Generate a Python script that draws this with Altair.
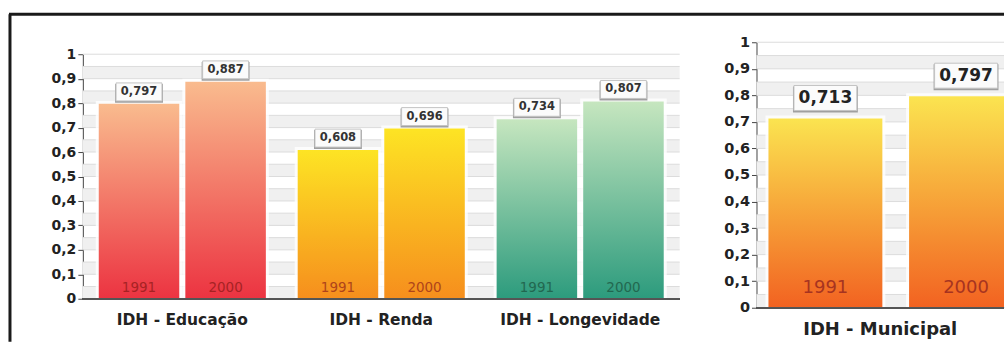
import altair as alt
import pandas as pd

# ---------------- data ----------------
groups = ["IDH - Educação", "IDH - Renda", "IDH - Longevidade"]
years = ["1991", "2000"]
edu = [0.797, 0.887]
renda = [0.608, 0.696]
longev = [0.734, 0.807]
mun_title = "IDH - Municipal"
mun = [0.713, 0.797]

y_ticks = [0, 0.1, 0.2, 0.3, 0.4, 0.5, 0.6, 0.7, 0.8, 0.9, 1]
band_lo = [0.0, 0.1, 0.2, 0.3, 0.4, 0.5, 0.6, 0.7, 0.8, 0.9]
band_hi = [0.05, 0.15, 0.25, 0.35, 0.45, 0.55, 0.65, 0.75, 0.85, 0.95]
grid_vals = [0.05, 0.1, 0.15, 0.2, 0.25, 0.3, 0.35, 0.4, 0.45, 0.5,
             0.55, 0.6, 0.65, 0.7, 0.75, 0.8, 0.85, 0.9, 0.95, 1.0]

def lbl(v):
    return f"{v:.3f}".replace(".", ",")

rows = []
for g, vals in zip(groups, [edu, renda, longev]):
    for yr_, v in zip(years, vals):
        rows.append({"group": g, "year": yr_, "value": v, "label": lbl(v)})
df_left = pd.DataFrame(rows)
df_right = pd.DataFrame({"year": years, "value": mun, "label": [lbl(v) for v in mun]})
df_band = pd.DataFrame({"lo": band_lo, "hi": band_hi})
df_grid = pd.DataFrame({"g": grid_vals})
df_one = pd.DataFrame({"t": [mun_title]})

FONT = "DejaVu Sans"
label_expr = "datum.value == 0 ? '0' : (datum.value == 1 ? '1' : replace(format(datum.value, '.1f'), '.', ','))"

def grad(top, bottom):
    return alt.LinearGradient(
        gradient="linear",
        stops=[alt.GradientStop(color=top, offset=0), alt.GradientStop(color=bottom, offset=1)],
        x1=0, x2=0, y1=0, y2=1,
    )

grads = {
    "IDH - Educação": grad("#f9bb8e", "#ec3341"),
    "IDH - Renda": grad("#fde424", "#f68e1d"),
    "IDH - Longevidade": grad("#c6e6bf", "#2c9b7d"),
}
year_colors = ["#9b1e1e", "#a3361a", "#1f5e48"]

# ---------------- left panel ----------------
LW, LH = 598, 257
yscale_l = alt.Scale(domain=[0, 1], range=[LH, 12], nice=False, zero=True)
x_l = alt.X("group:N", scale=alt.Scale(domain=groups, paddingInner=0.16, paddingOuter=0.08),
            axis=alt.Axis(title=None, domain=False, ticks=False, labelAngle=0, labelFont=FONT,
                          labelFontWeight="bold", labelFontSize=15.5, labelColor="#222",
                          labelPadding=14))
xo_l = alt.XOffset("year:N", scale=alt.Scale(domain=years, paddingInner=0.07))
y_axis_l = alt.Axis(values=y_ticks, labelExpr=label_expr, title=None, grid=False,
                    labelFont=FONT, labelFontWeight="bold", labelFontSize=14,
                    labelColor="#222", domainColor="#444", tickColor="#444", tickSize=5,
                    labelPadding=2)

def yl(field):
    return alt.Y(field, scale=yscale_l, axis=y_axis_l)

bands_l = alt.Chart(df_band).mark_rect(color="#f0f0f0").encode(y=yl("lo:Q"), y2="hi:Q")
grid_l = alt.Chart(df_grid).mark_rule(color="#dcdcdc", strokeWidth=1).encode(y=yl("g:Q"))
halo_l = alt.Chart(df_left).mark_bar(fill="white", stroke="white", strokeWidth=6, strokeOpacity=0.8).encode(
    x=x_l, xOffset=xo_l, y=yl("value:Q"))
bar_layers = []
for g in groups:
    bar_layers.append(
        alt.Chart(df_left).transform_filter(alt.datum.group == g).mark_bar(color=grads[g]).encode(
            x=x_l, xOffset=xo_l, y=yl("value:Q")))
years_l = alt.Chart(df_left).mark_text(font=FONT, fontSize=13.5, baseline="alphabetic", dy=-7, opacity=0.85).encode(
    x=x_l, xOffset=xo_l, y=alt.YDatum(0, scale=yscale_l, axis=y_axis_l), text="year:N",
    color=alt.Color("group:N", scale=alt.Scale(domain=groups, range=year_colors), legend=None))
shadow_l = alt.Chart(df_left).mark_bar(width=48, color="#a0a0a0", yOffset=-20, y2Offset=-1).encode(
    x=x_l, xOffset=xo_l, y=yl("value:Q"), y2="value:Q")
box_l = alt.Chart(df_left).mark_bar(width=46, fill="#fbfbfb", stroke="#c4c4c4", strokeWidth=1,
                                    yOffset=-21, y2Offset=-3).encode(
    x=x_l, xOffset=xo_l, y=yl("value:Q"), y2="value:Q")
vals_l = alt.Chart(df_left).mark_text(font=FONT, fontWeight="bold", fontSize=11.5, color="#333",
                                      baseline="middle", dy=-12).encode(
    x=x_l, xOffset=xo_l, y=yl("value:Q"), text="label:N")
base_l = alt.Chart(df_grid).mark_rule(color="#555", strokeWidth=1.5).encode(
    y=alt.YDatum(0, scale=yscale_l, axis=y_axis_l))
frame_top = alt.Chart(df_one).mark_rule(color="#1a1a1a", strokeWidth=3).encode(
    x=alt.value(-74), x2=alt.value(923), y=alt.value(-28))
frame_left = alt.Chart(df_one).mark_rule(color="#1a1a1a", strokeWidth=3).encode(
    x=alt.value(-73), y=alt.value(-28), y2=alt.value(300))

left = alt.layer(bands_l, grid_l, halo_l, *bar_layers, years_l, shadow_l, box_l, vals_l,
                 base_l, frame_top, frame_left).properties(width=LW, height=LH)

# ---------------- right panel ----------------
RW, RH = 248, 266
yscale_r = alt.Scale(domain=[0, 1], range=[RH, 0], nice=False, zero=True)
x_r = alt.X("year:N", scale=alt.Scale(domain=years, range=[0, 279], paddingInner=0.19, paddingOuter=0.085),
            axis=None)
y_axis_r = alt.Axis(values=y_ticks, labelExpr=label_expr, title=None, grid=False,
                    labelFont=FONT, labelFontWeight="bold", labelFontSize=14.5,
                    labelColor="#222", domainColor="#444", tickColor="#444", tickSize=5,
                    labelPadding=2)

def yr(field):
    return alt.Y(field, scale=yscale_r, axis=y_axis_r)

grad_mun = grad("#fbe450", "#f26221")

bands_r = alt.Chart(df_band).mark_rect(color="#f0f0f0").encode(y=yr("lo:Q"), y2="hi:Q")
grid_r = alt.Chart(df_grid).mark_rule(color="#dcdcdc", strokeWidth=1).encode(y=yr("g:Q"))
halo_r = alt.Chart(df_right).mark_bar(fill="white", stroke="white", strokeWidth=6, strokeOpacity=0.8, clip=True).encode(
    x=x_r, y=yr("value:Q"))
bar_r = alt.Chart(df_right).mark_bar(color=grad_mun, clip=True).encode(x=x_r, y=yr("value:Q"))
years_r = alt.Chart(df_right).mark_text(font=FONT, fontSize=18, baseline="alphabetic", dy=-15,
                                        color="#9a2a20", opacity=0.85, clip=True).encode(
    x=x_r, y=alt.YDatum(0, scale=yscale_r, axis=y_axis_r), text="year:N")
shadow_r = alt.Chart(df_right).mark_bar(width=65, color="#a0a0a0", yOffset=-32, y2Offset=-6, clip=True).encode(
    x=x_r, y=yr("value:Q"), y2="value:Q")
box_r = alt.Chart(df_right).mark_bar(width=63, fill="#fbfbfb", stroke="#c4c4c4", strokeWidth=1,
                                     yOffset=-33, y2Offset=-8, clip=True).encode(
    x=x_r, y=yr("value:Q"), y2="value:Q")
vals_r = alt.Chart(df_right).mark_text(font=FONT, fontWeight="bold", fontSize=17, color="#222",
                                       baseline="middle", dy=-20, clip=True).encode(
    x=x_r, y=yr("value:Q"), text="label:N")
base_r = alt.Chart(df_grid).mark_rule(color="#555", strokeWidth=1.5).encode(
    y=alt.YDatum(0, scale=yscale_r, axis=y_axis_r))
title_r = alt.Chart(df_one).mark_text(font=FONT, fontWeight="bold", fontSize=18, color="#222",
                                      baseline="alphabetic", align="center").encode(
    x=alt.value(124), y=alt.value(RH + 27), text="t:N")

right = alt.layer(bands_r, grid_r, halo_r, bar_r, years_r, shadow_r, box_r, vals_r, base_r, title_r).properties(
    width=RW, height=RH)

chart = alt.hconcat(left, right, spacing=77, bounds="flush").configure_view(stroke=None).properties(
    padding={"left": 7, "top": 12, "right": 0, "bottom": 0}, background="white")

chart.save("out.html", embed_options={"renderer": "svg", "actions": False})
